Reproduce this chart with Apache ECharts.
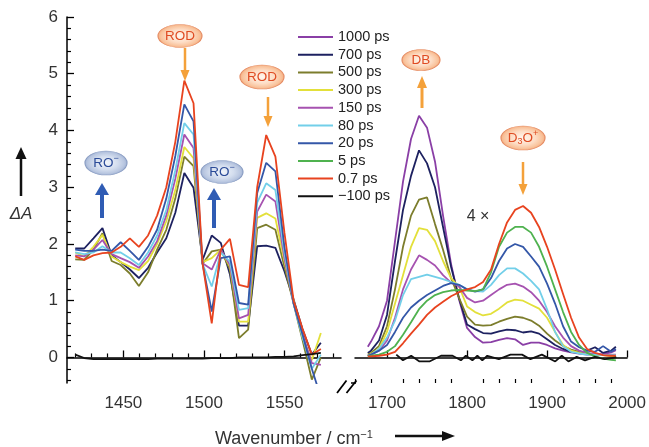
<!DOCTYPE html>
<html><head><meta charset="utf-8">
<style>html,body{margin:0;padding:0;background:#fff}#chart{width:649px;height:447px}</style>
<script src="https://cdn.jsdelivr.net/npm/echarts@6/dist/echarts.min.js"></script>
</head><body><div id="chart"></div>
<script>
// ---------- DATA ----------
const seriesNames = ['1000 ps','700 ps','500 ps','300 ps','150 ps','80 ps','20 ps','5 ps','0.7 ps','\u2212100 ps'];
const seriesColors = ['#8a3fa6','#1d2160','#7c7d2c','#e3e03a','#a652b0','#72cfe9','#3457a8','#4fb24f','#e8431f','#111111'];

const yTickLabels = [0,1,2,3,4,5,6];
const yMinorTicks = [-0.4,-0.2,0.2,0.4,0.6,0.8,1.2,1.4,1.6,1.8,2.2,2.4,2.6,2.8,3.2,3.4,3.6,3.8,4.2,4.4,4.6,4.8,5.2,5.4,5.6,5.8];
const leftTickLabels = [1450,1500,1550];
const leftMinorTicks = [1420,1430,1440,1460,1470,1480,1490,1510,1520,1530,1540,1560,1570,1580];
const rightTickLabels = [1700,1800,1900,2000];
const rightMinorTicks = [1660,1680,1720,1740,1760,1780,1820,1840,1860,1880,1920,1940,1960,1980];

// left panel (1420-1575 cm-1)
const leftWavenumbers = [1420.1,1425.7,1431.4,1437.0,1442.7,1448.3,1454.0,1459.6,1465.3,1470.9,1476.6,1482.2,1487.8,1493.5,1499.1,1504.8,1510.4,1516.1,1521.7,1527.4,1533.0,1538.6,1544.3,1549.9,1555.6,1561.2,1566.9,1572.5];
const left700  = [1.92,1.92,2.10,2.28,1.80,1.68,1.55,1.40,1.58,1.85,2.10,2.55,3.25,2.99,1.72,2.15,2.02,1.46,0.56,0.56,1.96,1.97,1.93,1.52,1.02,0.49,0.05,0.26];
const left500  = [1.73,1.72,1.90,2.19,1.70,1.63,1.48,1.26,1.50,1.90,2.25,2.80,3.54,3.37,1.65,1.87,1.90,1.55,0.34,0.49,2.28,2.34,2.25,1.60,0.95,0.30,-0.39,0.00];
const left300  = [1.85,1.78,1.95,2.16,1.78,1.68,1.60,1.54,1.70,2.00,2.40,2.95,3.71,3.51,1.68,1.75,1.90,1.60,0.63,0.63,2.46,2.54,2.45,1.70,1.00,0.35,-0.05,0.43];
const left150  = [1.80,1.78,1.90,2.07,1.82,1.75,1.68,1.58,1.78,2.05,2.50,3.15,3.93,3.69,1.66,1.55,1.90,1.63,0.69,0.75,2.57,2.87,2.75,1.75,0.95,0.40,-0.10,-0.13];
const left80   = [1.85,1.82,1.85,1.96,1.85,1.85,1.75,1.63,1.85,2.15,2.60,3.30,4.13,3.93,1.65,1.25,1.85,1.69,0.84,0.87,2.73,3.07,2.95,1.85,0.95,0.35,-0.20,0.05];
const left20   = [1.90,1.88,1.88,1.90,1.88,2.03,1.88,1.72,1.95,2.25,2.80,3.55,4.46,4.16,1.65,0.81,1.75,1.78,0.96,0.93,2.90,3.43,3.28,1.95,0.95,0.40,-0.20,-0.70];
const left07   = [1.78,1.72,1.80,1.84,1.85,1.95,2.10,1.95,2.15,2.50,3.00,3.80,4.88,4.48,1.66,0.60,1.90,2.09,1.28,1.24,3.00,3.92,3.54,2.20,1.00,0.50,0.05,0.15];
const leftM100 = [0.05,-0.01,-0.03,-0.03,-0.03,-0.03,-0.03,-0.03,-0.03,-0.02,-0.02,-0.02,-0.02,-0.02,-0.02,-0.01,-0.01,-0.01,0.00,0.00,0.00,0.00,0.01,0.01,0.02,0.04,0.06,0.08];

// right panel (1676-1986 cm-1, shown 4x)
const rightWavenumbers = [1676,1680,1690,1700,1710,1720,1730,1740,1750,1760,1770,1780,1790,1800,1810,1820,1830,1840,1850,1860,1870,1880,1890,1900,1910,1920,1930,1940,1950,1960,1970,1980,1986];
const right1000 = [0.19,0.28,0.55,1.00,2.05,3.10,3.85,4.26,4.05,3.45,2.50,1.65,1.02,0.52,0.36,0.26,0.27,0.31,0.34,0.32,0.22,0.26,0.26,0.22,0.16,0.12,0.09,0.07,0.05,0.05,0.06,0.09,0.13];
const right700  = [0.08,0.12,0.30,0.75,1.70,2.60,3.20,3.65,3.42,3.00,2.30,1.60,1.05,0.58,0.50,0.43,0.42,0.46,0.49,0.48,0.44,0.46,0.42,0.32,0.22,0.15,0.10,0.08,0.12,0.18,0.08,0.12,0.19];
const right500  = [0.05,0.08,0.20,0.55,1.20,1.95,2.50,2.78,2.82,2.35,1.90,1.40,1.05,0.72,0.58,0.56,0.57,0.63,0.68,0.72,0.70,0.65,0.56,0.42,0.30,0.20,0.14,0.10,0.07,0.05,0.04,0.03,0.02];
const right300  = [0.03,0.06,0.15,0.45,0.95,1.45,1.95,2.28,2.25,2.05,1.70,1.40,1.25,0.90,0.80,0.74,0.77,0.86,0.97,1.02,1.00,0.93,0.86,0.70,0.45,0.22,0.12,0.08,0.06,0.05,0.04,0.03,0.03];
const right150  = [0.03,0.05,0.12,0.30,0.70,1.20,1.55,1.80,1.72,1.62,1.45,1.32,1.25,1.05,0.97,1.00,1.10,1.20,1.28,1.30,1.25,1.15,1.00,0.80,0.55,0.35,0.20,0.12,0.08,0.06,0.05,0.05,0.05];
const right80   = [0.03,0.05,0.15,0.35,0.65,1.10,1.38,1.42,1.46,1.42,1.38,1.33,1.28,1.20,1.17,1.16,1.28,1.45,1.57,1.57,1.48,1.35,1.20,0.85,0.45,0.20,0.10,0.07,0.05,0.05,0.04,0.04,0.04];
const right20   = [0.03,0.05,0.12,0.22,0.45,0.70,0.88,1.00,1.10,1.18,1.26,1.31,1.28,1.20,1.16,1.20,1.40,1.70,1.92,2.00,1.95,1.78,1.60,1.30,0.95,0.55,0.28,0.18,0.12,0.10,0.20,0.10,0.15];
const right5    = [0.02,0.03,0.05,0.10,0.20,0.40,0.62,0.85,1.00,1.10,1.15,1.18,1.19,1.18,1.17,1.20,1.50,1.95,2.20,2.30,2.30,2.20,1.95,1.60,1.20,0.80,0.45,0.22,0.08,0.02,-0.02,-0.04,-0.05];
const right07   = [0.02,0.02,0.03,0.05,0.10,0.25,0.42,0.58,0.75,0.88,0.98,1.08,1.15,1.20,1.24,1.33,1.55,2.00,2.38,2.60,2.67,2.55,2.30,1.95,1.55,1.12,0.70,0.35,0.15,0.08,0.04,0.03,0.03];
const rightM100Wavenumbers = [1711.6,1719.9,1730.2,1740.6,1753.0,1767.5,1781.9,1792.3,1798.5,1806.7,1812.9,1819.1,1825.3,1839.8,1854.3,1868.7,1879.2,1893.5,1910.2,1918.4,1926.7,1937.0,1947.4,1959.8,1972.2,1986.6];
const rightM100 = [0.05,-0.05,0.03,-0.07,-0.07,0.03,0.03,-0.05,0.03,-0.05,0.03,-0.05,0.03,-0.03,0.05,0.05,-0.03,0.05,-0.07,0.03,-0.07,0.01,-0.05,0.01,-0.03,0.00];

// ---------- BUILD ----------
const FONT = "'Liberation Sans', Arial, Helvetica, sans-serif";
const leftSets = {'700 ps':left700,'500 ps':left500,'300 ps':left300,'150 ps':left150,'80 ps':left80,'20 ps':left20,'0.7 ps':left07,'\u2212100 ps':leftM100};
const rightSets = {'1000 ps':right1000,'700 ps':right700,'500 ps':right500,'300 ps':right300,'150 ps':right150,'80 ps':right80,'20 ps':right20,'5 ps':right5,'0.7 ps':right07};

const series = [];
seriesNames.forEach((name, k) => {
  const color = seriesColors[k];
  if (leftSets[name]) {
    series.push({type:'line', name, xAxisIndex:0, yAxisIndex:0, symbol:'none', clip:true,
      lineStyle:{color, width:1.8}, itemStyle:{color},
      data: leftWavenumbers.map((x,i)=>[x, leftSets[name][i]])});
  }
  if (rightSets[name]) {
    series.push({type:'line', name, xAxisIndex:2, yAxisIndex:2, symbol:'none', clip:true,
      lineStyle:{color, width:1.8}, itemStyle:{color},
      data: rightWavenumbers.map((x,i)=>[x, rightSets[name][i]])});
  }
  if (name.startsWith('\u2212')) {
    series.push({type:'line', name, xAxisIndex:2, yAxisIndex:2, symbol:'none', clip:true,
      lineStyle:{color, width:1.8}, itemStyle:{color},
      data: rightM100Wavenumbers.map((x,i)=>[x, rightM100[i]])});
  }
});

const axisLineStyle = {color:'#000', width:1.5};
const labelStyle = {color:'#333', fontSize:17, fontFamily:FONT, formatter: v => String(v)};

function majorX(grid, min, max, labels) {
  return {type:'value', gridIndex:grid, min, max, position:'bottom', offset:0,
    axisLine:{show:true, lineStyle:axisLineStyle},
    axisTick:{show:true, inside:true, length:7, customValues:labels, lineStyle:{color:'#000', width:1.3}},
    axisLabel:{show:true, customValues:labels, margin:12, ...labelStyle},
    splitLine:{show:false}};
}
function minorX(grid, min, max, ticks) {
  return {type:'value', gridIndex:grid, min, max, position:'bottom', offset:0,
    axisLine:{show:false},
    axisTick:{show:true, inside:true, length:4, customValues:ticks, lineStyle:{color:'#000', width:1.2}},
    axisLabel:{show:false}, splitLine:{show:false}};
}

const option = {
  animation:false,
  backgroundColor:'#fff',
  textStyle:{fontFamily:FONT},
  grid:[
    {left:67, top:17, width:274, height:366},
    {left:355, top:17, width:274, height:366}
  ],
  xAxis:[
    majorX(0, 1415, 1585, leftTickLabels),
    minorX(0, 1415, 1585, leftMinorTicks),
    majorX(1, 1660, 2000, rightTickLabels),
    minorX(1, 1660, 2000, rightMinorTicks)
  ],
  yAxis:[
    {type:'value', gridIndex:0, min:-0.45, max:6, position:'left', offset:0,
      axisLine:{show:true, lineStyle:axisLineStyle},
      axisTick:{show:true, inside:true, length:7, customValues:yTickLabels, lineStyle:{color:'#000', width:1.3}},
      axisLabel:{show:true, customValues:yTickLabels, margin:9, ...labelStyle},
      splitLine:{show:false}},
    {type:'value', gridIndex:0, min:-0.45, max:6, position:'left', offset:0,
      axisLine:{show:false},
      axisTick:{show:true, inside:true, length:4, customValues:yMinorTicks, lineStyle:{color:'#000', width:1.2}},
      axisLabel:{show:false}, splitLine:{show:false}},
    {type:'value', gridIndex:1, min:-0.45, max:6, show:false, splitLine:{show:false}}
  ],
  legend:{
    data:seriesNames, orient:'vertical', left:298, top:29, padding:0,
    icon:'rect', itemWidth:35, itemHeight:2, itemGap:1.7,
    textStyle:{fontSize:14.5, lineHeight:16, color:'#222', fontFamily:FONT}
  },
  series
};

// ---------- ANNOTATIONS ----------
const orangeFill = {type:'radial', x:0.5, y:0.5, r:0.5, colorStops:[
  {offset:0, color:'#fff7ef'},{offset:0.55, color:'#fddcc4'},{offset:0.85, color:'#f9c39c'},{offset:1, color:'#f5ab7c'}]};
const blueFill = {type:'radial', x:0.5, y:0.5, r:0.5, colorStops:[
  {offset:0, color:'#f2f6fb'},{offset:0.55, color:'#d3ddee'},{offset:0.85, color:'#b8c6e0'},{offset:1, color:'#9fb1d3'}]};

function bubble(cx, cy, rx, ry, text, orange) {
  const tc = orange ? '#df4b22' : '#2b4b98';
  return [
    {type:'circle', x:cx, y:cy, scaleY: ry/rx, shape:{cx:0, cy:0, r:rx},
      style:{fill: orange ? orangeFill : blueFill, stroke: orange ? '#e58c64' : '#8a9dc3', lineWidth:1.2,
      strokeNoScale:true}, z:50},
    {type:'text', x:cx, y:cy, z:51, style:{text, x:0, y:0, align:'center', verticalAlign:'middle',
      fill: tc, fontFamily:FONT, fontSize:13.5,
      rich:{
        n:{fontSize:13.5, fill: tc, fontFamily:FONT},
        sup:{fontSize:9, fill: tc, fontFamily:FONT, padding:[0,0,8,0]},
        sub:{fontSize:9, fill: tc, fontFamily:FONT, padding:[8,0,0,0]}
      }}}
  ];
}
function arrow(x, yTail, yTip, color, shaftW, headW, headL) {
  const dir = yTip > yTail ? 1 : -1;
  const base = yTip - dir*headL;
  return [
    {type:'line', z:50, shape:{x1:x, y1:yTail, x2:x, y2:base + dir*1}, style:{stroke:color, lineWidth:shaftW}},
    {type:'polygon', z:50, shape:{points:[[x-headW/2, base],[x+headW/2, base],[x, yTip]]}, style:{fill:color}}
  ];
}
const ORANGE = '#f4a13a', BLUE = '#2f5cb4';
const graphics = [].concat(
  bubble(180, 36, 22, 11.5, 'ROD', true),
  arrow(185, 48, 81, ORANGE, 2.5, 9, 11),
  bubble(262, 77, 22, 12, 'ROD', true),
  arrow(268, 97, 127, ORANGE, 2.5, 9, 11),
  bubble(106, 163, 21, 12, '{n|RO}{sup|\u2212}', false),
  arrow(102, 218, 183, BLUE, 4, 14, 12),
  bubble(222, 172, 21, 11.5, '{n|RO}{sup|\u2212}', false),
  arrow(214, 228, 188, BLUE, 4, 14, 12),
  bubble(421, 60, 19, 10.5, 'DB', true),
  arrow(422, 108, 76, ORANGE, 3, 10, 12),
  bubble(523, 138, 22, 12, '{n|D}{sub|3}{n|O}{sup|+}', true),
  arrow(523, 162, 195, ORANGE, 2.5, 9, 11),
  arrow(21, 196, 147, '#111', 2.5, 11, 12),
  [
    {type:'text', x:21, y:214, z:50, style:{text:'\u0394A', align:'center', verticalAlign:'middle',
      fill:'#333', fontSize:17, fontStyle:'italic', fontFamily:FONT}},
    {type:'text', x:478, y:217, z:50, style:{text:'4 \u00d7', align:'center', verticalAlign:'middle',
      fill:'#333', fontSize:16, fontFamily:FONT}},
    {type:'text', x:215, y:439, z:50, style:{text:'{t|Wavenumber / cm}{s|\u22121}', align:'left', verticalAlign:'middle',
      rich:{t:{fontSize:18, fill:'#333', fontFamily:FONT}, s:{fontSize:11, fill:'#333', fontFamily:FONT, padding:[0,0,9,0]}}}},
    {type:'line', z:50, shape:{x1:395, y1:436, x2:445, y2:436}, style:{stroke:'#111', lineWidth:2.5}},
    {type:'polygon', z:50, shape:{points:[[442,431],[442,441],[455,436]]}, style:{fill:'#111'}},
    // axis break
    {type:'line', z:50, shape:{x1:337, y1:393, x2:346.5, y2:380.5}, style:{stroke:'#000', lineWidth:1.8}},
    {type:'line', z:50, shape:{x1:346.5, y1:393, x2:356.5, y2:380.5}, style:{stroke:'#000', lineWidth:1.8}},
    {type:'line', z:50, shape:{x1:351, y1:383, x2:356, y2:383}, style:{stroke:'#000', lineWidth:1.5}}
  ]
);
option.graphic = graphics;

const chart = echarts.init(document.getElementById('chart'), null, {renderer:'canvas'});
chart.setOption(option);
</script>
</body></html>
